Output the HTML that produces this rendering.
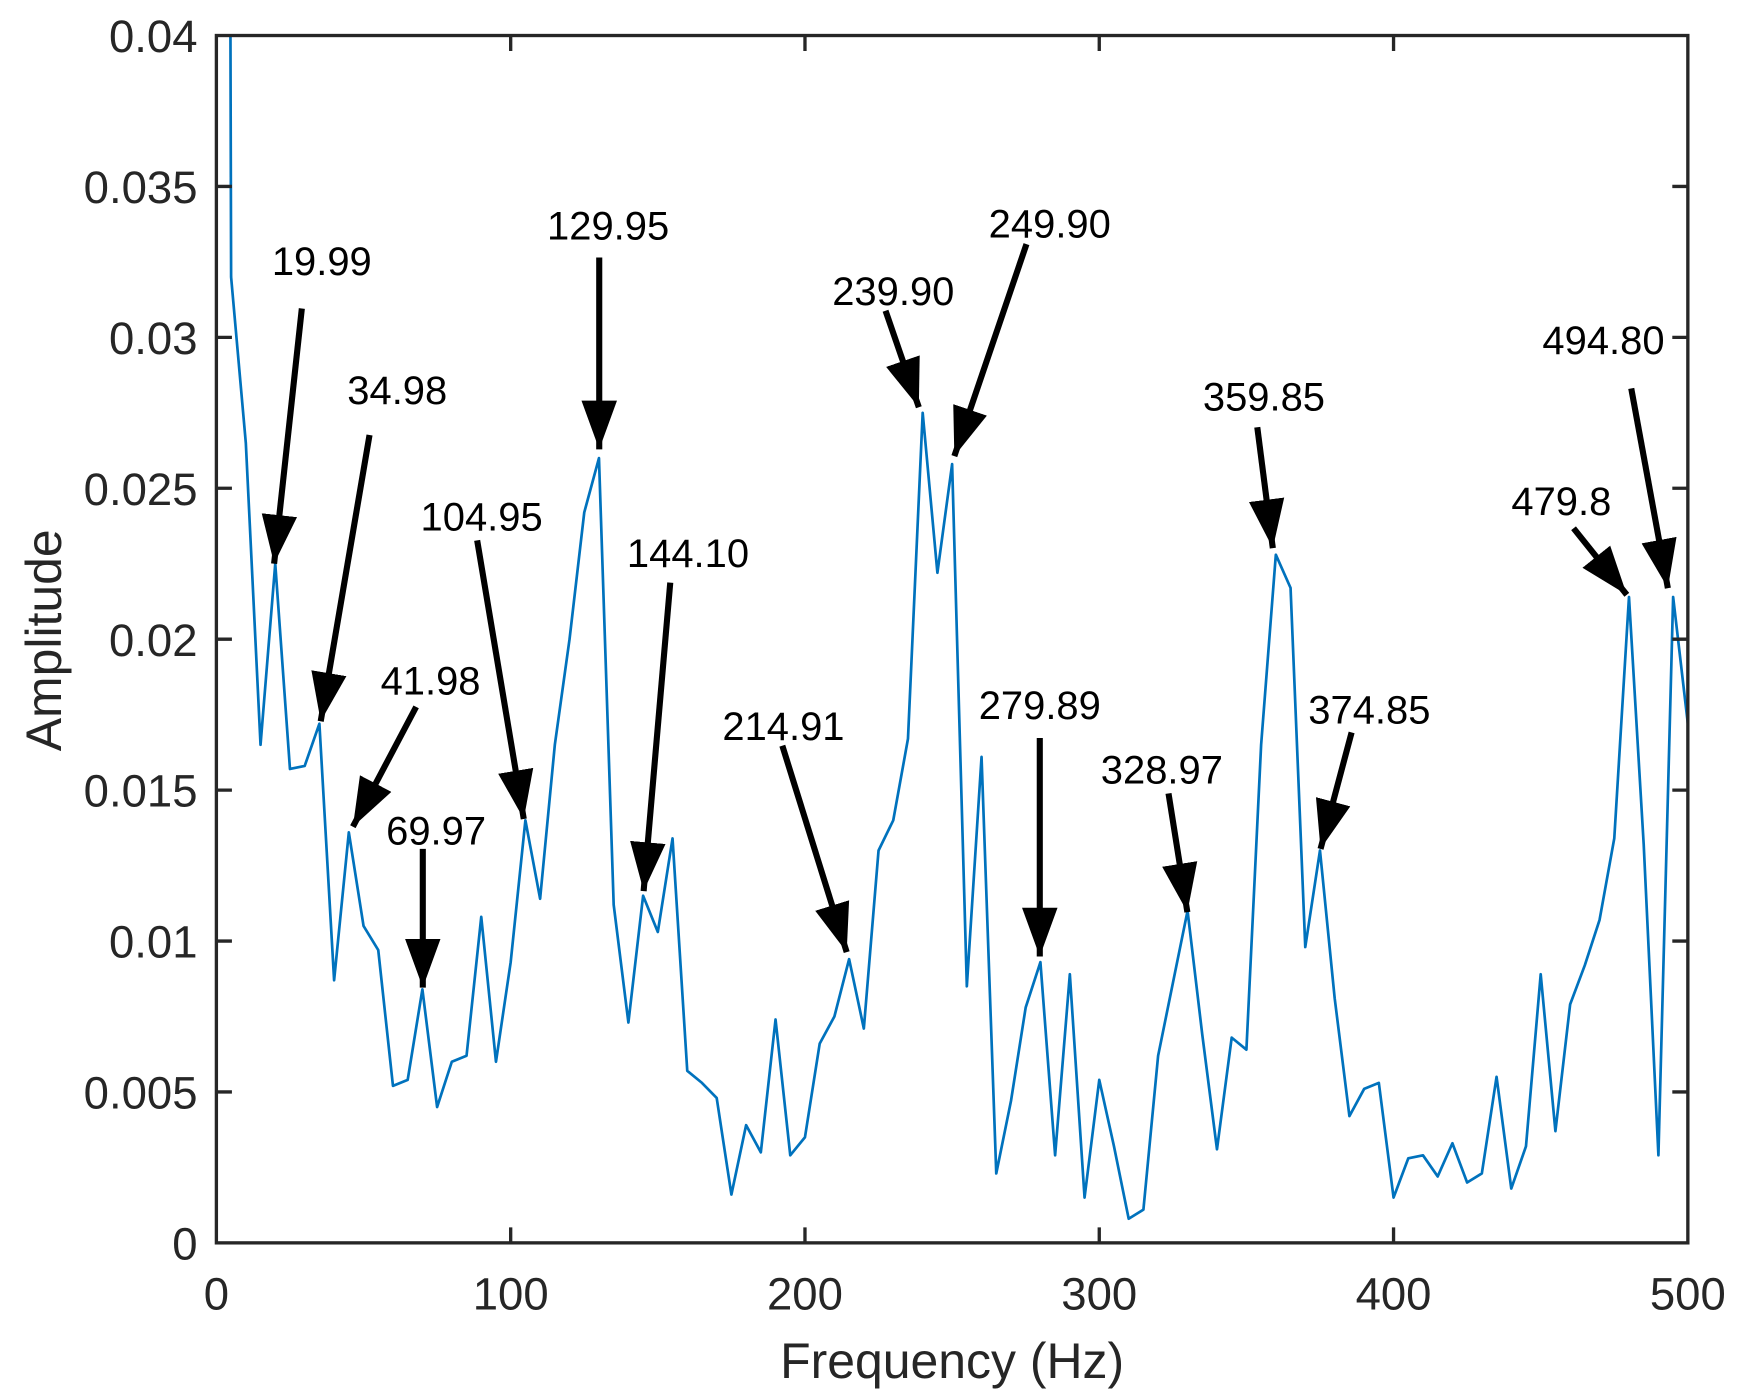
<!DOCTYPE html>
<html><head><meta charset="utf-8"><style>html,body{margin:0;padding:0;background:#fff}svg{display:block}</style></head>
<body>
<svg width="1740" height="1400" viewBox="0 0 1568 1261.6" xmlns="http://www.w3.org/2000/svg">
<defs>
<clipPath id="c"><rect x="195" y="32" width="1326" height="1088"/></clipPath>
<marker id="ah" markerUnits="userSpaceOnUse" markerWidth="50" markerHeight="40" refX="44" refY="16" orient="auto" viewBox="0 0 50 32">
<path d="M0,0 L44,16 L0,32 Z" fill="#000"/></marker>
</defs>
<rect width="1568" height="1262" fill="#fff"/>
<g clip-path="url(#c)">
<g transform="translate(195,1120) scale(2.652,-27200)">
<polyline fill="none" stroke="#0072BD" stroke-width="2.7" vector-effect="non-scaling-stroke" stroke-linejoin="round" points="4.5,0.05 5,0.032 10,0.0265 15,0.0165 20,0.0225 25,0.0157 30,0.0158 35,0.0172 40,0.0087 45,0.0136 50,0.0105 55,0.0097 60,0.0052 65,0.0054 70,0.0084 75,0.0045 80,0.006 85,0.0062 90,0.0108 95,0.0060 100,0.0093 105,0.0140 110,0.0114 115,0.0165 120,0.020 125,0.0242 130,0.026 135,0.0112 140,0.0073 145,0.0115 150,0.0103 155,0.0134 160,0.0057 165,0.0053 170,0.0048 175,0.0016 180,0.0039 185,0.0030 190,0.0074 195,0.0029 200,0.0035 205,0.0066 210,0.0075 215,0.0094 220,0.0071 225,0.0130 230,0.0140 235,0.0167 240,0.0275 245,0.0222 250,0.0258 255,0.0085 260,0.0161 265,0.0023 270,0.0047 275,0.0078 280,0.0093 285,0.0029 290,0.0089 295,0.0015 300,0.0054 305,0.0032 310,0.0008 315,0.0011 320,0.0062 325,0.0086 330,0.0110 335,0.0069 340,0.0031 345,0.0068 350,0.0064 355,0.0165 360,0.0228 365,0.0217 370,0.0098 375,0.0130 380,0.0081 385,0.0042 390,0.0051 395,0.0053 400,0.0015 405,0.0028 410,0.0029 415,0.0022 420,0.0033 425,0.0020 430,0.0023 435,0.0055 440,0.0018 445,0.0032 450,0.0089 455,0.0037 460,0.0079 465,0.0092 470,0.0107 475,0.0134 480,0.0214 485,0.0132 490,0.0029 495,0.0214 500,0.0172"/>
</g></g>
<g stroke="#262626" stroke-width="3" fill="none">
<rect x="195" y="32" width="1326" height="1088"/>
<path d="M195,984h14M195,848h14M195,712h14M195,576h14M195,440h14M195,304h14M195,168h14
M1521,984h-14M1521,848h-14M1521,712h-14M1521,576h-14M1521,440h-14M1521,304h-14M1521,168h-14
M460.2,1120v-14M725.4,1120v-14M990.6,1120v-14M1255.8,1120v-14
M460.2,32v14M725.4,32v14M990.6,32v14M1255.8,32v14"/>
</g>
<g font-family="Liberation Sans, sans-serif" font-size="41" fill="#262626" text-anchor="end" font-weight="500">
<text x="178" y="1135">0</text><text x="178" y="999">0.005</text><text x="178" y="863">0.01</text><text x="178" y="727">0.015</text><text x="178" y="591">0.02</text><text x="178" y="455">0.025</text><text x="178" y="319">0.03</text><text x="178" y="183">0.035</text><text x="178" y="47">0.04</text>
</g>
<g font-family="Liberation Sans, sans-serif" font-size="41" fill="#262626" text-anchor="middle">
<text x="195" y="1180">0</text><text x="460.2" y="1180">100</text><text x="725.4" y="1180">200</text><text x="990.6" y="1180">300</text><text x="1255.8" y="1180">400</text><text x="1521" y="1180">500</text>
<text x="858" y="1242" font-size="45">Frequency (Hz)</text>
<text transform="translate(55,577) rotate(-90)" font-size="45">Amplitude</text>
</g>
<g stroke="#000" stroke-width="5.5" marker-end="url(#ah)">
<line x1="272" y1="278" x2="247" y2="508"/>
<line x1="333" y1="392" x2="289" y2="650"/>
<line x1="375" y1="637" x2="318" y2="745"/>
<line x1="381" y1="765" x2="381" y2="890"/>
<line x1="430" y1="487" x2="472" y2="738"/>
<line x1="540" y1="232" x2="540" y2="405"/>
<line x1="604" y1="525" x2="580" y2="803"/>
<line x1="705" y1="672" x2="763" y2="858"/>
<line x1="798" y1="280" x2="828" y2="367"/>
<line x1="925" y1="220" x2="860" y2="411"/>
<line x1="937" y1="665" x2="937" y2="862"/>
<line x1="1053" y1="715" x2="1070" y2="822"/>
<line x1="1133" y1="385" x2="1147" y2="494"/>
<line x1="1218" y1="660" x2="1190" y2="765"/>
<line x1="1418" y1="476" x2="1466" y2="536"/>
<line x1="1470" y1="350" x2="1503" y2="530"/>
</g>
<g font-family="Liberation Sans, sans-serif" font-size="36" fill="#000" text-anchor="middle">
<text x="290" y="248">19.99</text>
<text x="358" y="364">34.98</text>
<text x="388" y="626">41.98</text>
<text x="393" y="761">69.97</text>
<text x="434" y="478">104.95</text>
<text x="548" y="216">129.95</text>
<text x="620" y="511">144.10</text>
<text x="706" y="667">214.91</text>
<text x="805" y="275">239.90</text>
<text x="946" y="214">249.90</text>
<text x="937" y="648">279.89</text>
<text x="1047" y="706">328.97</text>
<text x="1139" y="370">359.85</text>
<text x="1234" y="652">374.85</text>
<text x="1407" y="464">479.8</text>
<text x="1445" y="319">494.80</text>
</g>
</svg>
</body></html>
